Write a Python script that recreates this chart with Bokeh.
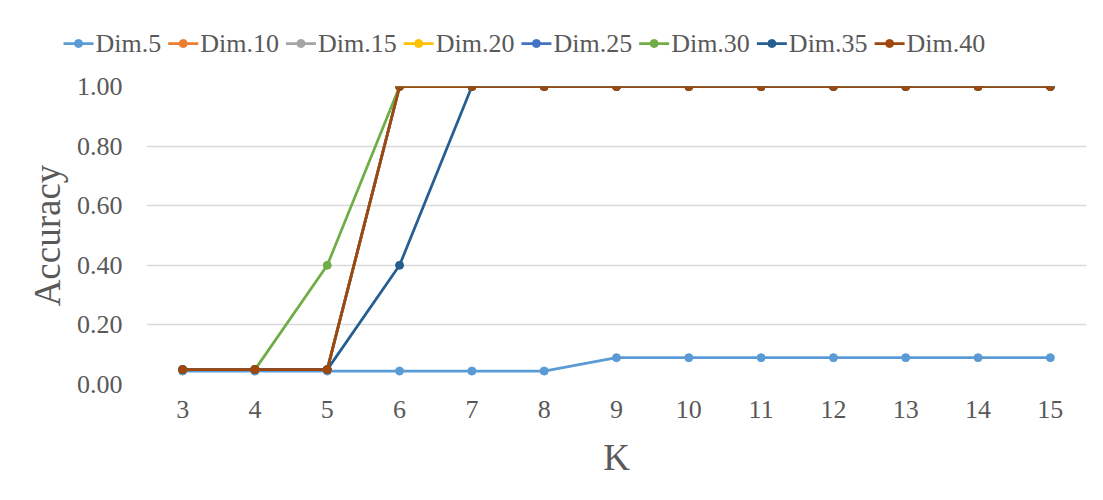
from bokeh.plotting import figure
from bokeh.layouts import column
from bokeh.models import FixedTicker, Range1d, NumeralTickFormatter, Label
from bokeh.embed import file_html
from bokeh.resources import INLINE

k_values = [3, 4, 5, 6, 7, 8, 9, 10, 11, 12, 13, 14, 15]
series_names = ["Dim.5", "Dim.10", "Dim.15", "Dim.20", "Dim.25", "Dim.30", "Dim.35", "Dim.40"]
dim5 = [0.045, 0.045, 0.045, 0.045, 0.045, 0.045, 0.09, 0.09, 0.09, 0.09, 0.09, 0.09, 0.09]
dim10 = [0.05, 0.05, 0.05, 1, 1, 1, 1, 1, 1, 1, 1, 1, 1]
dim15 = [0.05, 0.05, 0.05, 1, 1, 1, 1, 1, 1, 1, 1, 1, 1]
dim20 = [0.05, 0.05, 0.05, 1, 1, 1, 1, 1, 1, 1, 1, 1, 1]
dim25 = [0.05, 0.05, 0.05, 1, 1, 1, 1, 1, 1, 1, 1, 1, 1]
dim30 = [0.05, 0.05, 0.40, 1, 1, 1, 1, 1, 1, 1, 1, 1, 1]
dim35 = [0.05, 0.05, 0.05, 0.40, 1, 1, 1, 1, 1, 1, 1, 1, 1]
dim40 = [0.05, 0.05, 0.05, 1, 1, 1, 1, 1, 1, 1, 1, 1, 1]
y_ticks = [0.0, 0.2, 0.4, 0.6, 0.8, 1.0]

all_series = [dim5, dim10, dim15, dim20, dim25, dim30, dim35, dim40]
colors = ["#5B9BD5", "#ED7D31", "#A5A5A5", "#FFC000", "#4472C4", "#70AD47", "#255E91", "#9E480E"]

FONT = "Liberation Serif"
TXT = "#595959"
LW = 2.75
MS = 8
W = 1087

# ---- legend strip (pixel-mapped coordinates) ----
LEG_H = 70
lg = figure(width=W, height=LEG_H, output_backend="svg", toolbar_location=None,
            x_axis_location=None, y_axis_location=None,
            x_range=Range1d(0, W), y_range=Range1d(0, LEG_H),
            min_border_left=0, min_border_right=0, min_border_top=0, min_border_bottom=0)
lg.grid.visible = False
lg.outline_line_color = None
lg.border_fill_color = "white"
lg.background_fill_color = "white"

FS = 26
CHAR_W = {"D": 0.722, "i": 0.278, "m": 0.778, ".": 0.25}
def text_w(s):
    return sum(CHAR_W.get(ch, 0.5) for ch in s) * FS

GLYPH_W, STANDOFF, SPACING = 30, 2, 7
x0, ymid = 63, LEG_H - 43
seg_x0, seg_x1, dot_x, txt_x = [], [], [], []
x = x0
for name in series_names:
    seg_x0.append(x)
    seg_x1.append(x + GLYPH_W)
    dot_x.append(x + GLYPH_W / 2)
    txt_x.append(x + GLYPH_W + STANDOFF)
    x += GLYPH_W + STANDOFF + text_w(name) + SPACING
ys = [ymid] * len(series_names)
lg.segment(seg_x0, ys, seg_x1, ys, line_color=colors, line_width=LW)
lg.scatter(dot_x, ys, marker="circle", size=MS, fill_color=colors, line_color=colors)
for tx, name in zip(txt_x, series_names):
    lg.add_layout(Label(x=tx, y=ymid, text=name, text_font=FONT, text_font_size=f"{FS}px",
                        text_color=TXT, text_baseline="middle", text_align="left"))

# ---- main chart ----
p = figure(width=W, height=414, output_backend="svg", toolbar_location=None,
           x_range=Range1d(2.5, 15.5), y_range=Range1d(0, 1.0),
           min_border_left=146, min_border_right=1, min_border_top=16, min_border_bottom=100)
p.outline_line_color = None
p.background_fill_color = "white"
p.border_fill_color = "white"

for name, vals, c in zip(series_names, all_series, colors):
    p.line(k_values, vals, line_color=c, line_width=LW)
    p.scatter(k_values, vals, marker="circle", size=MS, fill_color=c, line_color=c)

p.xaxis.ticker = FixedTicker(ticks=k_values)
p.yaxis.ticker = FixedTicker(ticks=y_ticks)
p.yaxis.formatter = NumeralTickFormatter(format="0.00")
for ax in (p.xaxis, p.yaxis):
    ax.axis_line_color = None
    ax.major_tick_line_color = None
    ax.minor_tick_line_color = None
    ax.major_label_text_font = FONT
    ax.major_label_text_font_size = "26px"
    ax.major_label_text_color = TXT
    ax.axis_label_text_font = FONT
    ax.axis_label_text_font_size = "37px"
    ax.axis_label_text_color = TXT
    ax.axis_label_text_font_style = "normal"
p.xaxis.axis_label = "K"
p.yaxis.axis_label = "Accuracy"
p.yaxis.major_label_standoff = 18
p.xaxis.major_label_standoff = 10
p.xaxis.axis_label_standoff = 16
p.yaxis.axis_label_standoff = 6
p.xgrid.grid_line_color = None
p.ygrid.grid_line_color = "#D9D9D9"
p.ygrid.grid_line_width = 1.5

# keep the legend strip's frame independent of the chart's frame
for fig in (lg, p):
    if "frame_align" in fig.properties():
        fig.frame_align = False

layout = column(column(lg), p, spacing=0)
open("out.html", "w").write(file_html(layout, INLINE))
